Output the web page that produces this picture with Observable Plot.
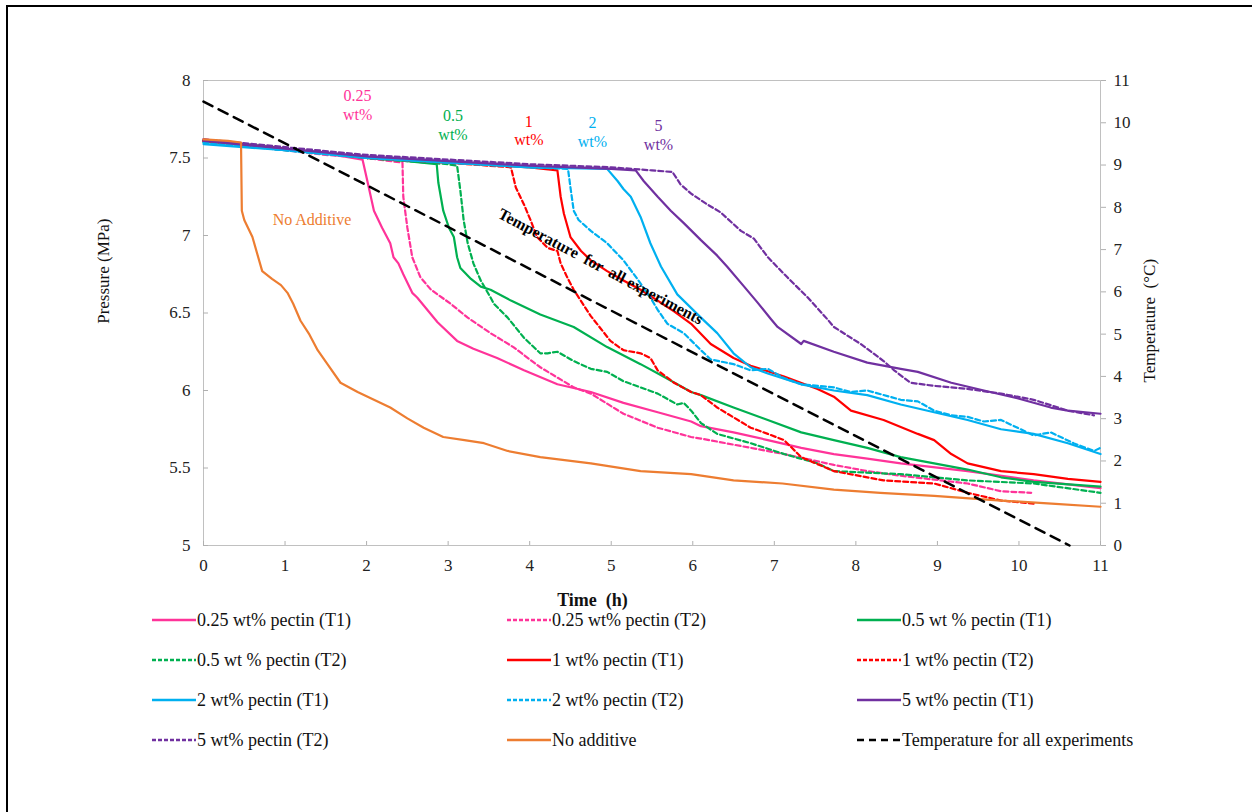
<!DOCTYPE html>
<html>
<head>
<meta charset="utf-8">
<script src="https://cdn.jsdelivr.net/npm/d3@7"></script>
<script src="https://cdn.jsdelivr.net/npm/@observablehq/plot@0.6"></script>
<style>
  html, body { margin: 0; padding: 0; background: #fff; }
  #page { position: relative; width: 1252px; height: 812px; overflow: hidden; font-family: "Liberation Serif", "Times New Roman", Times, serif; }
  #border { position: absolute; left: 6px; top: 5px; width: 1300px; height: 900px; border-left: 2.5px solid #000; border-top: 2.5px solid #000; }
  #chart { position: absolute; left: 0; top: 0; }
  #legend { position: absolute; left: 0; top: 610px; width: 1252px; }
  .item { position: absolute; height: 20px; display: flex; align-items: center; font-size: 18px; color: #111; white-space: nowrap; }
  .item svg { margin-right: 1px; }
</style>
</head>
<body>
<div id="page">
  <div id="border"></div>
  <div id="chart"></div>
  <div id="legend"></div>
</div>
<script>
// ---------- data (time h, pressure MPa) ----------
const xTicks = [0,1,2,3,4,5,6,7,8,9,10,11];
const pressureTicks = [5,5.5,6,6.5,7,7.5,8];
const temperatureTicks = [0,1,2,3,4,5,6,7,8,9,10,11];

const pectin025T1 = [[0,7.62],[0.5,7.59],[1,7.56],[1.5,7.53],[1.95,7.49],[2.01,7.35],[2.09,7.16],[2.19,7.05],[2.29,6.95],[2.33,6.86],[2.39,6.82],[2.45,6.75],[2.56,6.63],[2.62,6.60],[2.87,6.44],[3.11,6.32],[3.31,6.27],[3.6,6.21],[3.93,6.13],[4.34,6.04],[4.75,5.99],[5.15,5.92],[5.57,5.86],[5.98,5.80],[6.1,5.77],[6.5,5.73],[6.92,5.68],[7.33,5.63],[7.73,5.59],[8.14,5.56],[8.55,5.53],[9.37,5.48],[10.18,5.42],[11,5.37]];
const pectin025T2 = [[0,7.61],[0.5,7.58],[1,7.55],[1.5,7.52],[2,7.50],[2.44,7.47],[2.45,7.25],[2.5,7.05],[2.56,6.86],[2.66,6.73],[2.79,6.65],[3.03,6.56],[3.24,6.47],[3.52,6.37],[3.8,6.28],[4.13,6.15],[4.54,6.02],[4.75,5.98],[5.15,5.85],[5.57,5.76],[5.98,5.70],[6.1,5.69],[6.71,5.63],[7.12,5.59],[7.73,5.52],[8.14,5.48],[8.55,5.45],[9.37,5.40],[9.78,5.35],[10.15,5.34]];
const pectin05T1 = [[0,7.61],[0.5,7.59],[1,7.56],[1.5,7.53],[2,7.50],[2.5,7.48],[2.86,7.46],[2.88,7.34],[2.94,7.16],[3.01,7.05],[3.07,6.99],[3.11,6.86],[3.15,6.79],[3.28,6.72],[3.40,6.67],[3.52,6.65],[3.77,6.58],[4.13,6.49],[4.54,6.41],[4.95,6.28],[5.36,6.17],[5.64,6.09],[5.98,5.99],[6.1,5.97],[6.5,5.89],[6.92,5.81],[7.33,5.73],[7.73,5.68],[8.14,5.63],[8.55,5.57],[8.96,5.53],[9.37,5.49],[9.78,5.44],[10.18,5.41],[11,5.38]];
const pectin05T2 = [[0,7.60],[0.5,7.58],[1,7.55],[1.5,7.53],[2,7.50],[2.5,7.48],[3,7.46],[3.11,7.45],[3.15,7.29],[3.19,7.10],[3.24,6.95],[3.31,6.82],[3.40,6.71],[3.52,6.60],[3.56,6.56],[3.73,6.47],[3.93,6.34],[4.13,6.24],[4.22,6.24],[4.34,6.25],[4.54,6.19],[4.75,6.14],[4.95,6.12],[5.15,6.06],[5.57,5.98],[5.81,5.91],[5.89,5.92],[5.98,5.87],[6.10,5.79],[6.30,5.72],[6.71,5.66],[7.12,5.59],[7.53,5.53],[7.73,5.48],[8.55,5.46],[9.37,5.42],[10.18,5.40],[11,5.34]];
const pectin1T1 = [[0,7.61],[1,7.56],[2,7.50],[3,7.47],[4,7.44],[4.34,7.42],[4.38,7.25],[4.42,7.14],[4.50,6.99],[4.63,6.90],[4.75,6.84],[4.95,6.77],[5.15,6.71],[5.36,6.65],[5.57,6.58],[5.77,6.51],[5.98,6.43],[6.22,6.30],[6.50,6.21],[6.71,6.16],[7.12,6.09],[7.53,6.01],[7.73,5.96],[7.94,5.87],[8.34,5.81],[8.76,5.72],[8.96,5.68],[9.17,5.59],[9.37,5.53],[9.78,5.48],[10.18,5.46],[10.60,5.43],[11,5.41]];
const pectin1T2 = [[0,7.61],[1,7.56],[2,7.50],[3,7.47],[3.5,7.45],[3.77,7.44],[3.83,7.31],[3.93,7.20],[4.01,7.10],[4.09,6.99],[4.22,6.92],[4.34,6.90],[4.38,6.82],[4.46,6.73],[4.54,6.65],[4.65,6.56],[4.75,6.48],[4.87,6.40],[4.99,6.32],[5.15,6.26],[5.36,6.24],[5.48,6.21],[5.57,6.13],[5.77,6.05],[5.98,5.99],[6.10,5.97],[6.30,5.89],[6.71,5.76],[6.92,5.72],[7.12,5.68],[7.33,5.57],[7.73,5.48],[8.34,5.42],[8.96,5.40],[9.37,5.34],[9.78,5.29],[10.18,5.27]];
const pectin2T1 = [[0,7.59],[1,7.55],[2,7.50],[3,7.47],[4,7.44],[4.95,7.43],[5.08,7.35],[5.15,7.30],[5.24,7.25],[5.36,7.12],[5.48,6.95],[5.61,6.80],[5.81,6.62],[6.10,6.47],[6.30,6.37],[6.50,6.24],[6.71,6.15],[6.92,6.11],[7.33,6.04],[7.73,6.00],[8.14,5.97],[8.55,5.91],[8.96,5.86],[9.37,5.81],[9.78,5.75],[10.18,5.72],[10.60,5.66],[11,5.59]];
const pectin2T2 = [[0,7.60],[1,7.55],[2,7.50],[3,7.47],[4,7.44],[4.47,7.43],[4.50,7.31],[4.54,7.16],[4.60,7.10],[4.75,7.03],[4.95,6.95],[5.15,6.84],[5.32,6.72],[5.48,6.60],[5.57,6.52],[5.69,6.43],[5.89,6.37],[6.10,6.26],[6.22,6.20],[6.50,6.17],[6.71,6.13],[6.92,6.14],[7.12,6.08],[7.33,6.04],[7.73,6.02],[7.94,5.99],[8.14,6.00],[8.55,5.94],[8.76,5.93],[8.96,5.87],[9.17,5.84],[9.37,5.83],[9.57,5.80],[9.78,5.81],[10.18,5.71],[10.39,5.73],[10.67,5.66],[10.92,5.61],[11,5.63]];
const pectin5T1 = [[0,7.61],[1,7.56],[2,7.51],[3,7.48],[4,7.45],[5,7.43],[5.30,7.42],[5.40,7.35],[5.57,7.25],[5.73,7.16],[5.89,7.08],[6.10,6.97],[6.30,6.87],[6.42,6.80],[6.63,6.67],[6.79,6.57],[6.96,6.46],[7.04,6.41],[7.33,6.30],[7.36,6.32],[7.73,6.25],[8.14,6.18],[8.55,6.14],[8.76,6.12],[9.17,6.05],[9.57,6.00],[9.98,5.95],[10.39,5.89],[10.60,5.87],[11,5.85]];
const pectin5T2 = [[0,7.62],[1,7.57],[2,7.52],[3,7.49],[4,7.46],[5,7.44],[5.5,7.42],[5.75,7.41],[5.85,7.33],[5.98,7.27],[6.18,7.20],[6.34,7.15],[6.59,7.03],[6.75,6.98],[6.92,6.86],[7.16,6.73],[7.41,6.60],[7.65,6.46],[7.73,6.41],[8.06,6.30],[8.34,6.19],[8.47,6.13],[8.67,6.05],[8.96,6.03],[9.37,6.01],[9.78,5.98],[10.18,5.94],[10.60,5.87],[10.92,5.84]];
const noAdditive = [[0,7.62],[0.3,7.61],[0.46,7.60],[0.47,7.16],[0.5,7.10],[0.6,6.99],[0.72,6.77],[0.84,6.72],[0.95,6.68],[1.03,6.63],[1.1,6.56],[1.19,6.45],[1.3,6.36],[1.4,6.26],[1.52,6.17],[1.68,6.05],[1.89,5.99],[2.09,5.94],[2.29,5.89],[2.5,5.82],[2.7,5.76],[2.94,5.70],[3.2,5.68],[3.44,5.66],[3.73,5.61],[4.13,5.57],[4.75,5.53],[5.36,5.48],[5.98,5.46],[6.5,5.42],[7.1,5.40],[7.73,5.36],[8.3,5.34],[8.96,5.32],[9.78,5.29],[10.4,5.27],[11,5.25]];

// temperature (°C) for all experiments, time h
const temperatureTime = [0, 10.62];
const temperatureValue = [10.5, 0];

const seriesNames = ["0.25 wt% pectin (T1)","0.25 wt% pectin (T2)","0.5 wt % pectin (T1)","0.5 wt % pectin (T2)","1 wt% pectin (T1)","1 wt% pectin (T2)","2 wt% pectin (T1)","2 wt% pectin (T2)","5 wt% pectin (T1)","5 wt% pectin (T2)","No additive"];
const seriesData = [pectin025T1,pectin025T2,pectin05T1,pectin05T2,pectin1T1,pectin1T2,pectin2T1,pectin2T2,pectin5T1,pectin5T2,noAdditive];
const seriesColors = ["#FF3399","#FF3399","#00B050","#00B050","#FF0000","#FF0000","#00B0F0","#00B0F0","#7030A0","#7030A0","#ED7D31"];
const seriesDashed = [false,true,false,true,false,true,false,true,false,true,false];
const temperatureName = "Temperature for all experiments";

const concLabels = ["0.25\nwt%","0.5\nwt%","1\nwt%","2\nwt%","5\nwt%"];
const concLabelX = [1.89,3.06,3.99,4.77,5.58];
const concLabelY = [7.845,7.716,7.68,7.67,7.65];
const concColors = ["#FF3399","#00B050","#FF0000","#00B0F0","#7030A0"];

// map temperature onto the pressure axis (0..11 °C  <->  5..8 MPa)
const toP = t => 5 + t * 3 / 11;
const toT = p => (p - 5) * 11 / 3;

const temperatureRows = temperatureTime.map((t, i) => ({t, T: temperatureValue[i]}));
const dashFor = d => d ? "5,3" : null;
const FONT = "'Liberation Serif', 'Times New Roman', Times, serif";

const marks = [
  Plot.frame({stroke: "#c0c0c0", strokeWidth: 1}),
  Plot.axisX({ticks: xTicks, tickSize: -4, tickPadding: 17, stroke: "#b0b0b0", label: null, fontSize: 17}),
  Plot.axisY({ticks: pressureTicks, tickSize: -5, tickPadding: 18, stroke: "#b0b0b0", label: null, fontSize: 17, tickFormat: d => String(d)}),
  Plot.axisY({anchor: "right", ticks: temperatureTicks.map(toP), tickSize: 5, tickPadding: 8, stroke: "#b0b0b0", label: null, fontSize: 17, tickFormat: d => String(Math.round(toT(d)))})
];
seriesData.forEach((data, i) => {
  marks.push(Plot.line(data, {x: d => d[0], y: d => d[1], stroke: seriesColors[i], strokeWidth: 2.2, strokeDasharray: dashFor(seriesDashed[i])}));
});
marks.push(Plot.line(temperatureRows, {x: "t", y: d => toP(d.T), stroke: "#000", strokeWidth: 2.5, strokeDasharray: "10,7"}));
marks.push(Plot.text(concLabels, {x: (d, i) => concLabelX[i], y: (d, i) => concLabelY[i], text: d => d, fill: (d, i) => concColors[i], fontSize: 16, lineHeight: 1.15}));
marks.push(Plot.text(["No Additive"], {x: 1.33, y: 7.10, text: d => d, fill: "#ED7D31", fontSize: 16, letterSpacing: 0.6}));
marks.push(Plot.text(["Temperature  for  all experiments"], {x: 4.87, y: 6.80, text: d => d, rotate: 28, fill: "#000", fontSize: 16, fontWeight: "bold"}));
marks.push(Plot.text(["Pressure (MPa)"], {x: -1.23, y: 6.77, text: d => d, rotate: -90, fill: "#111", fontSize: 17}));
marks.push(Plot.text(["Temperature  (°C)"], {x: 11.6, y: 6.45, text: d => d, rotate: -90, fill: "#111", fontSize: 17}));
marks.push(Plot.text(["Time  (h)"], {x: 4.77, y: 4.645, text: d => d, fill: "#111", fontSize: 18, fontWeight: "bold"}));

const chart = Plot.plot({
  width: 1252,
  height: 610,
  marginLeft: 203,
  marginRight: 152,
  marginTop: 80,
  marginBottom: 65,
  x: {domain: [0, 11]},
  y: {domain: [5, 8]},
  style: {fontFamily: FONT, fontSize: "17px", background: "transparent", color: "#222", overflow: "visible"},
  marks
});
document.getElementById("chart").appendChild(chart);

// ---------- legend ----------
const legend = document.getElementById("legend");
const colX = [152, 507, 857];
const rowGap = 40;
const legendItems = seriesNames.map((name, i) => ({name, color: seriesColors[i], dash: seriesDashed[i] ? "4,2" : null, width: 2.5}));
legendItems.push({name: temperatureName, color: "#000", dash: "7,5", width: 2.5});
legendItems.forEach((it, i) => {
  const col = i % 3, row = Math.floor(i / 3);
  const div = document.createElement("div");
  div.className = "item";
  div.style.left = colX[col] + "px";
  div.style.top = (row * rowGap) + "px";
  const svgNS = "http://www.w3.org/2000/svg";
  const s = document.createElementNS(svgNS, "svg");
  s.setAttribute("width", 44); s.setAttribute("height", 20);
  const l = document.createElementNS(svgNS, "line");
  l.setAttribute("x1", 0); l.setAttribute("x2", 44); l.setAttribute("y1", 10); l.setAttribute("y2", 10);
  l.setAttribute("stroke", it.color); l.setAttribute("stroke-width", it.width);
  if (it.dash) l.setAttribute("stroke-dasharray", it.dash);
  s.appendChild(l);
  div.appendChild(s);
  const span = document.createElement("span");
  span.textContent = it.name;
  div.appendChild(span);
  legend.appendChild(div);
});
</script>
</body>
</html>
